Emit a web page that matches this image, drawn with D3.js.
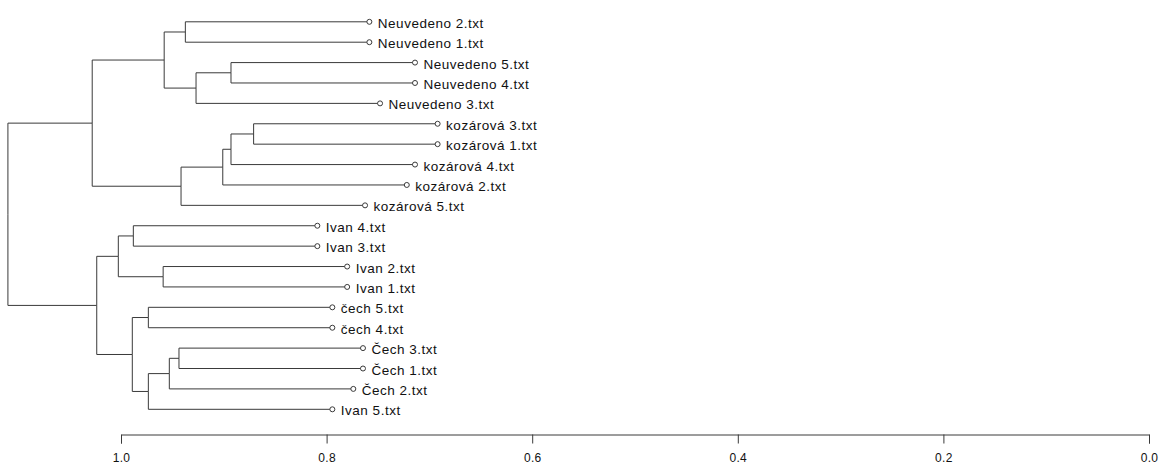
<!DOCTYPE html>
<html>
<head>
<meta charset="utf-8">
<script src="https://cdn.jsdelivr.net/npm/d3@7"></script>
<style>
	body { margin: 0; background: #fff; }
	text { font-family: "Liberation Sans", Arial, sans-serif; fill: #111; }
	.link { fill: none; stroke: #3a3a3a; stroke-width: 1; }
	.leaf { fill: #fff; stroke: #3a3a3a; stroke-width: 1; }
</style>
</head>
<body>
<script>
// leaves, top to bottom
let leaves = [
	"Neuvedeno 2.txt", "Neuvedeno 1.txt", "Neuvedeno 5.txt", "Neuvedeno 4.txt", "Neuvedeno 3.txt",
	"kozárová 3.txt", "kozárová 1.txt", "kozárová 4.txt", "kozárová 2.txt", "kozárová 5.txt",
	"Ivan 4.txt", "Ivan 3.txt", "Ivan 2.txt", "Ivan 1.txt",
	"čech 5.txt", "čech 4.txt", "Čech 3.txt", "Čech 1.txt", "Čech 2.txt", "Ivan 5.txt"
];

// hclust style merges: negative = leaf (1-based), positive = earlier merge row
let merges = [
	[-1, -2], [-3, -4], [2, -5], [1, 3],
	[-6, -7], [5, -8], [6, -9], [7, -10], [4, 8],
	[-11, -12], [-13, -14], [10, 11],
	[-15, -16], [-17, -18], [14, -19], [15, -20], [13, 16], [12, 17],
	[9, 18]
];
let heights = [
	0.9374, 0.893, 0.927, 0.958,
	0.871, 0.893, 0.901, 0.9416, 1.028,
	0.988, 0.959, 1.0026,
	0.9734, 0.9436, 0.953, 0.9734, 0.989, 1.0236,
	1.110
];
let hang = 0.179;
let ticks = [1.0, 0.8, 0.6, 0.4, 0.2, 0.0];

let width = 1161, height = 466;
let yTop = 21.8, yBottom = 409.3;

let x = d3.scaleLinear()
	.domain([1, 0])
	.range([121, 1149]);

// build nested tree from merges
let build = i => {
	if (i < 0) return {name: leaves[-i - 1]};
	let m = merges[i - 1];
	return {height: heights[i - 1], children: [build(m[0]), build(m[1])]};
};
let root = d3.hierarchy(build(merges.length));

let step = (yBottom - yTop) / (leaves.length - 1);
d3.cluster()
	.separation(() => 1)
	.nodeSize([step, 1])(root);

let first = d3.min(root.leaves(), d => d.x);
root.each(d => {
	d.py = d.x - first + yTop;
	d.h = d.children ? d.data.height : d.parent.data.height - hang;
});

let svg = d3.select("body").append("svg")
	.attr("width", width)
	.attr("height", height);

svg.append("g")
	.selectAll("path")
	.data(root.links())
	.enter().append("path")
	.attr("class", "link")
	.attr("d", l => `M${x(l.source.h)},${l.source.py}V${l.target.py}H${x(l.target.h)}`);

let leaf = svg.append("g")
	.selectAll("g")
	.data(root.leaves())
	.enter().append("g")
	.attr("transform", d => `translate(${x(d.h)},${d.py})`);

leaf.append("circle")
	.attr("class", "leaf")
	.attr("r", 2.5);

leaf.append("text")
	.attr("x", 8.5)
	.attr("dy", "0.45em")
	.style("font-size", "13.5px")
	.style("letter-spacing", "0.5px")
	.text(d => d.data.name);

let axis = svg.append("g")
	.attr("transform", "translate(0,434.5)")
	.call(d3.axisBottom(x)
		.tickValues(ticks)
		.tickFormat(d3.format(".1f"))
		.tickSize(9)
		.tickPadding(10));

axis.select(".domain").attr("stroke", "#3a3a3a");
axis.selectAll(".tick line").attr("stroke", "#3a3a3a");
axis.selectAll(".tick text")
	.style("font-family", "'Liberation Sans', Arial, sans-serif")
	.style("font-size", "12px")
	.style("letter-spacing", "0.3px")
	.attr("fill", "#111");
</script>
</body>
</html>
